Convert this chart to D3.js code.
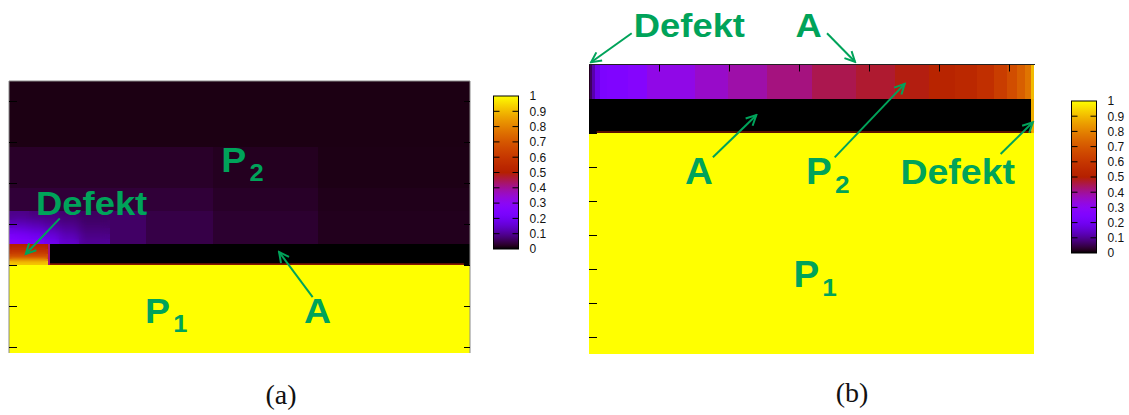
<!DOCTYPE html>
<html>
<head>
<meta charset="utf-8">
<script src="https://cdn.jsdelivr.net/npm/d3@7"></script>
<style>
  html, body { margin: 0; padding: 0; background: #fff; }
  svg { display: block; }
  .lbl { font-family: "Liberation Sans", Arial, sans-serif; font-weight: bold; fill: #00a35a; }
  .cbt { font-family: "Liberation Sans", Arial, sans-serif; font-size: 12px; fill: #111; }
  .cap { font-family: "Liberation Serif", "DejaVu Serif", serif; font-size: 28px; fill: #111; }
</style>
</head>
<body>
<svg id="fig" width="1129" height="415"></svg>
<script>
// ---------- Panel (a): concentration field, block mesh [x0, x1, y0, y1, value] ----------
const substrateA = [[0, 11.25, -0.155, 2.0, 1.0]];            // P1 region
const layerA     = [[1.0, 11.25, 2.0, 2.5, 0.0]];             // layer A
const defectA    = [                                           // defect column
  [0, 0.94, 2.00, 2.08, 0.92],
  [0, 0.94, 2.08, 2.15, 0.80],
  [0, 0.94, 2.15, 2.25, 0.68],
  [0, 0.94, 2.25, 2.37, 0.58],
  [0, 0.94, 2.37, 2.50, 0.50]
];
const gapA = [[0.94, 1.0, 2.00, 2.50, 0.42]];
const coarseA = [                                              // P2 region, coarse blocks
  [2.46, 3.35, 2.5, 3.3, 0.065], [3.35, 4.98, 2.5, 3.3, 0.045],
  [4.98, 7.54, 2.5, 3.3, 0.030], [7.54, 11.25, 2.5, 3.3, 0.018],
  [0, 4.98, 3.3, 3.875, 0.035], [4.98, 7.54, 3.3, 3.875, 0.025], [7.54, 11.25, 3.3, 3.875, 0.016],
  [0, 4.98, 3.875, 4.875, 0.026], [4.98, 7.54, 3.875, 4.875, 0.020], [7.54, 11.25, 3.875, 4.875, 0.013],
  [0, 11.25, 4.875, 6.48, 0.012]
];
// fine mesh above the defect
const glowXEdges = [0, 0.24, 0.49, 0.85, 1.22, 1.71, 2.46];
const glowYEdges = [2.5, 2.62, 2.74, 2.89, 3.08, 3.3];
const glowValues = [
  [0.27, 0.26, 0.24, 0.20, 0.15, 0.10],
  [0.24, 0.23, 0.21, 0.17, 0.13, 0.09],
  [0.19, 0.18, 0.16, 0.14, 0.11, 0.08],
  [0.13, 0.13, 0.12, 0.10, 0.09, 0.07],
  [0.09, 0.09, 0.08, 0.08, 0.07, 0.06]
];
const interfaceA = [1.0, 11.1, 2.0, 0.5];                      // x0, x1, y, value

// ---------- Panel (b) ----------
const stripEdgesB = [0, 0.01, 0.04, 0.086, 0.157, 0.253, 0.56, 0.824, 1.514, 1.99, 2.54,
  3.18, 3.82, 4.37, 4.85, 5.23, 5.54, 5.78, 5.97, 6.11, 6.23, 6.32, 6.357];
const stripValuesB = [0.02, 0.06, 0.12, 0.19, 0.24, 0.25, 0.27, 0.32, 0.355, 0.385, 0.417,
  0.45, 0.47, 0.49, 0.52, 0.54, 0.57, 0.62, 0.67, 0.72, 0.77, 0.9];
const stripDepthB = [0, 1];
const layerB     = [[0, 6.32, 1, 2, 0.0]];
const defectB    = [[6.32, 6.357, 1, 2, 0.88]];
const substrateB = [[0, 6.357, 2, 8.5, 1.0]];
const interfaceB = [0.11, 6.32, 2.0, 0.5];

// ---------- axes / colorbar ----------
const yTicksA = [0, 1, 2, 3, 4, 5, 6];
const xTicksB = [1, 2, 3, 4, 5, 6];
const yTicksB = [1, 2, 3, 4, 5, 6, 7, 8];
const cbTicks = [0, 0.1, 0.2, 0.3, 0.4, 0.5, 0.6, 0.7, 0.8, 0.9, 1];
const captions = ["(a)", "(b)"];

// gnuplot-style palette (rgbformulae 7,5,15)
function pal(v) {
  v = Math.max(0, Math.min(1, v));
  const r = Math.sqrt(v), g = v * v * v, b = Math.max(0, Math.sin(2 * Math.PI * v));
  return d3.rgb(r * 255, g * 255, b * 255).formatHex();
}

const svg = d3.select("#fig");
const GREEN = "#00a35a";

const defs = svg.append("defs");
const mk = defs.append("marker").attr("id", "arr").attr("viewBox", "-12 -7 14 14")
  .attr("refX", 0).attr("refY", 0).attr("markerWidth", 14).attr("markerHeight", 14)
  .attr("markerUnits", "userSpaceOnUse").attr("orient", "auto");
mk.append("path").attr("d", "M-10,-5 L0,0 L-10,5").attr("fill", "none")
  .attr("stroke", GREEN).attr("stroke-width", 2);
defs.append("filter").attr("id", "soft").append("feGaussianBlur").attr("stdDeviation", 4);
defs.append("filter").attr("id", "soft2").append("feGaussianBlur").attr("stdDeviation", 2);

function drawCells(g, cells, x, y) {
  g.selectAll(null).data(cells).enter().append("rect")
    .attr("x", d => x(d[0])).attr("width", d => x(d[1]) - x(d[0]))
    .attr("y", d => y(d[3])).attr("height", d => y(d[2]) - y(d[3]))
    .attr("fill", d => pal(d[4])).attr("shape-rendering", "crispEdges");
}
function drawCellsDown(g, cells, x, y) { // y grows downward (depth)
  g.selectAll(null).data(cells).enter().append("rect")
    .attr("x", d => x(d[0])).attr("width", d => x(d[1]) - x(d[0]))
    .attr("y", d => y(d[2])).attr("height", d => y(d[3]) - y(d[2]))
    .attr("fill", d => pal(d[4])).attr("shape-rendering", "crispEdges");
}
// cells drawn sharp, then a softened copy clipped to the same box on top
function drawSoft(g, cells, x, y, box, filterId, clipId) {
  drawCells(g, cells, x, y);
  defs.append("clipPath").attr("id", clipId).append("rect")
    .attr("x", x(box[0])).attr("y", y(box[3]))
    .attr("width", x(box[1]) - x(box[0])).attr("height", y(box[2]) - y(box[3]));
  const s = g.append("g").attr("clip-path", `url(#${clipId})`).append("g").attr("filter", `url(#${filterId})`);
  drawCells(s, cells, x, y);
}

const STRETCH = 1.07;
function label(g, x, y, main, sub, size) {
  const t = g.append("text").attr("class", "lbl")
    .attr("transform", `translate(${x},${y}) scale(${STRETCH},1)`)
    .style("font-size", size + "px").text(main);
  if (sub) t.append("tspan").attr("dx", 3).attr("dy", 9).style("font-size", (size * 0.68) + "px").text(sub);
}
function arrow(g, x1, y1, x2, y2) {
  g.append("line").attr("x1", x1).attr("y1", y1).attr("x2", x2).attr("y2", y2)
    .attr("stroke", GREEN).attr("stroke-width", 2).attr("marker-end", "url(#arr)");
}

function colorbar(x0, x1, y0, y1) {
  const s = d3.scaleLinear().domain([0, 1]).range([y1, y0]);
  const id = "cb" + Math.round(x0);
  const lg = defs.append("linearGradient").attr("id", id)
    .attr("x1", 0).attr("y1", 1).attr("x2", 0).attr("y2", 0);
  d3.range(0, 1.0001, 0.02).forEach(v => lg.append("stop").attr("offset", v).attr("stop-color", pal(v)));
  const g = svg.append("g");
  g.append("rect").attr("x", x0).attr("y", y0).attr("width", x1 - x0).attr("height", y1 - y0)
    .attr("fill", `url(#${id})`).attr("stroke", "#000").attr("stroke-width", 1);
  g.selectAll(".tl").data(cbTicks.slice(1, -1)).enter().append("path")
    .attr("d", d => `M${x0},${s(d)}h6M${x1},${s(d)}h-6`).attr("stroke", "#000").attr("stroke-width", 1);
  g.selectAll(".lb").data(cbTicks).enter().append("text").attr("class", "cbt")
    .attr("x", x1 + 11).attr("y", d => s(d)).attr("dy", "0.36em").text(d => d3.format("~g")(d));
}

// ================= Panel (a) =================
const xA = d3.scaleLinear().domain([0, 11.25]).range([9, 470]);
const yA = d3.scaleLinear().domain([-0.155, 6.48]).range([353, 81]);
const gA = svg.append("g");
drawCells(gA, substrateA, xA, yA);
drawCells(gA, coarseA, xA, yA);
const glowCells = [];
glowValues.forEach((row, j) => row.forEach((v, i) =>
  glowCells.push([glowXEdges[i], glowXEdges[i + 1], glowYEdges[j], glowYEdges[j + 1], v])));
drawSoft(gA, glowCells, xA, yA, [0, 2.46, 2.5, 3.3], "soft", "glowClip");
drawSoft(gA, defectA, xA, yA, [0, 0.94, 2.0, 2.5], "soft2", "defClip");
drawCells(gA, gapA, xA, yA);
drawCells(gA, layerA, xA, yA);
gA.append("line").attr("x1", xA(interfaceA[0])).attr("x2", xA(interfaceA[1]))
  .attr("y1", yA(interfaceA[2]) - 0.5).attr("y2", yA(interfaceA[2]) - 0.5)
  .attr("stroke", pal(interfaceA[3])).attr("stroke-width", 1.2);
// frame and ticks
gA.append("path").attr("d", `M${xA(0)},${yA(-0.155)}V${yA(6.48)}H${xA(11.25)}V${yA(-0.155)}`)
  .attr("fill", "none").attr("stroke", "#8a8a8a").attr("stroke-width", 1);
gA.selectAll(".tk").data(yTicksA).enter().append("path")
  .attr("d", d => `M${xA(0)},${Math.round(yA(d)) + 0.5}h8M${xA(11.25)},${Math.round(yA(d)) + 0.5}h-6`)
  .attr("stroke", "#000").attr("stroke-width", 1);
label(gA, xA(0.66), yA(3.21), "Defekt", null, 34);
arrow(gA, xA(1.24), yA(3.13), xA(0.41), yA(2.26));
label(gA, xA(5.18), yA(4.27), "P", "2", 35);
label(gA, xA(7.2), yA(0.58), "A", null, 35);
arrow(gA, xA(7.41), yA(1.21), xA(6.59), yA(2.31));
label(gA, xA(3.32), yA(0.58), "P", "1", 35);
colorbar(493.5, 518.5, 96, 249);

// ================= Panel (b) =================
const xB = d3.scaleLinear().domain([0, 6.357]).range([589, 1034]);
const yB = d3.scaleLinear().domain([0, 8.5]).range([64.5, 353.5]);
const gB = svg.append("g");
const stripCells = stripValuesB.map((v, i) => [stripEdgesB[i], stripEdgesB[i + 1], stripDepthB[0], stripDepthB[1], v]);
drawCellsDown(gB, substrateB, xB, yB);
drawCellsDown(gB, stripCells, xB, yB);
drawCellsDown(gB, layerB, xB, yB);
drawCellsDown(gB, defectB, xB, yB);
gB.append("line").attr("x1", xB(interfaceB[0])).attr("x2", xB(interfaceB[1]))
  .attr("y1", yB(interfaceB[2]) - 0.5).attr("y2", yB(interfaceB[2]) - 0.5)
  .attr("stroke", pal(interfaceB[3])).attr("stroke-width", 1.2);
gB.append("line").attr("x1", xB(0)).attr("x2", xB(6.357) + 1).attr("y1", 64.5).attr("y2", 64.5)
  .attr("stroke", "#222").attr("stroke-width", 1.2);
gB.selectAll(".tx").data(xTicksB).enter().append("path")
  .attr("d", d => `M${Math.round(xB(d)) + 0.5},${yB(0)}v7`).attr("stroke", "#000").attr("stroke-width", 1);
gB.selectAll(".ty").data(yTicksB).enter().append("path")
  .attr("d", d => `M${xB(0)},${Math.round(yB(d)) + 0.5}h8`).attr("stroke", "#000").attr("stroke-width", 1);
label(gB, xB(0.64), yB(-0.82), "Defekt", null, 34);
arrow(gB, xB(0.61), yB(-0.92), xB(0.03), yB(-0.065));
label(gB, xB(2.95), yB(-0.82), "A", null, 34);
arrow(gB, xB(3.40), yB(-0.92), xB(3.80), yB(-0.08));
label(gB, xB(1.37), yB(3.51), "A", null, 36);
arrow(gB, xB(1.77), yB(2.73), xB(2.39), yB(1.49));
label(gB, xB(3.10), yB(3.51), "P", "2", 36);
arrow(gB, xB(3.51), yB(2.73), xB(4.51), yB(0.57));
label(gB, xB(4.45), yB(3.51), "Defekt", null, 35);
arrow(gB, xB(5.88), yB(2.63), xB(6.34), yB(1.70));
label(gB, xB(2.92), yB(6.54), "P", "1", 36);
colorbar(1071.5, 1096.5, 101, 253);

// captions
svg.append("text").attr("class", "cap").attr("x", 281).attr("y", 404)
  .attr("text-anchor", "middle").text(captions[0]);
svg.append("text").attr("class", "cap").attr("x", 852).attr("y", 402)
  .attr("text-anchor", "middle").text(captions[1]);
</script>
</body>
</html>
